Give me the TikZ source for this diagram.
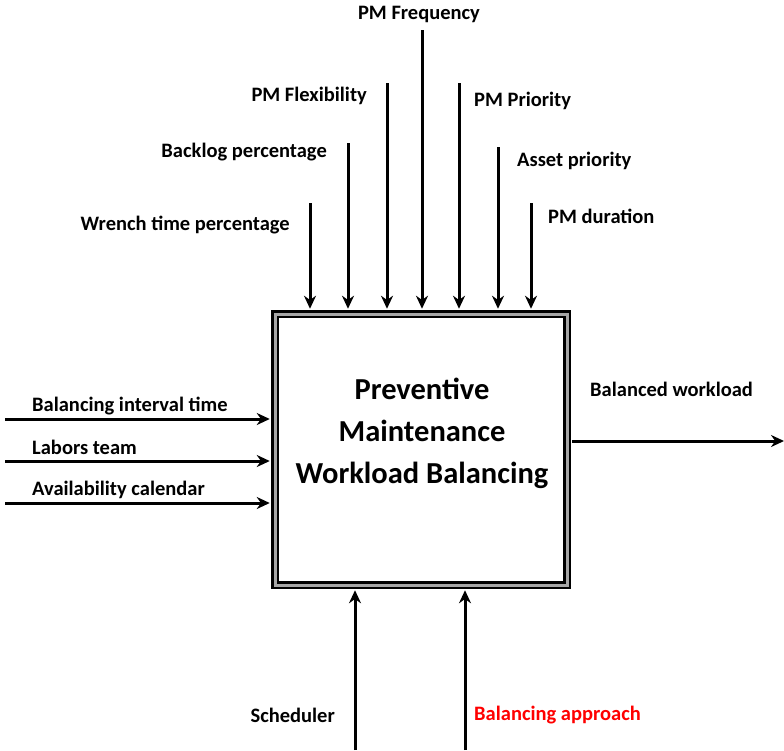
\documentclass[tikz,border=0pt]{standalone}
\usepackage{fontspec}
\setmainfont{Carlito}
\usetikzlibrary{arrows.meta, positioning}

\tikzset{
  lbl/.style={font=\bfseries\fontsize{20.5}{24}\selectfont, inner sep=0pt},
  flow/.style={line width=3pt, -{Stealth[length=13pt,width=12pt]}},
}

\begin{document}
\begin{tikzpicture}[x=1pt, y=-1pt]
  \useasboundingbox (0,0) rectangle (784,750);

  % Activity box
  \node (box) [draw, double=black!35, double distance=3pt, line width=2.5pt, inner sep=0pt,
    minimum width=292pt, minimum height=271pt] at (421,449.5) {};
  \node (title) [align=center, font=\bfseries\fontsize{30.5}{42}\selectfont]
    at (422,433) {Preventive\\Maintenance\\Workload Balancing};

  % Controls (top)
  \coordinate (wrenchtop)   at (310,203);
  \coordinate (backlogtop)  at (348,143);
  \coordinate (flextop)     at (387,83);
  \coordinate (freqtop)     at (422,30);
  \coordinate (prioritytop) at (459,83);
  \coordinate (assettop)    at (498,147);
  \coordinate (durationtop) at (531,203);

  \draw[flow, shorten >=4pt] (wrenchtop)   -- (wrenchtop |- box.north);
  \draw[flow, shorten >=4pt] (backlogtop)  -- (backlogtop |- box.north);
  \draw[flow, shorten >=4pt] (flextop)     -- (flextop |- box.north);
  \draw[flow, shorten >=4pt] (freqtop)     -- (freqtop |- box.north);
  \draw[flow, shorten >=4pt] (prioritytop) -- (prioritytop |- box.north);
  \draw[flow, shorten >=4pt] (assettop)    -- (assettop |- box.north);
  \draw[flow, shorten >=4pt] (durationtop) -- (durationtop |- box.north);

  \node[lbl, anchor=east] (wrench)   at (290,225) {Wrench time percentage};
  \node[lbl, anchor=east] (backlog)  at (327,152) {Backlog percentage};
  \node[lbl, anchor=east] (flex)     at (367,96)  {PM Flexibility};
  \node[lbl]              (freq)     at (419,14)  {PM Frequency};
  \node[lbl, anchor=west] (priority) at (474,101) {PM Priority};
  \node[lbl, anchor=west] (asset)    at (517,161) {Asset priority};
  \node[lbl, anchor=west] (duration) at (548,216) {PM duration};

  % Inputs (left)
  \coordinate (intervalin) at (5,419);
  \coordinate (laborsin)   at (5,461);
  \coordinate (calendarin) at (5,503);

  \draw[flow, shorten >=4pt] (intervalin) -- (intervalin -| box.west);
  \draw[flow, shorten >=4pt] (laborsin)   -- (laborsin -| box.west);
  \draw[flow, shorten >=4pt] (calendarin) -- (calendarin -| box.west);

  \node[lbl, anchor=west] (interval) at (32,406) {Balancing interval time};
  \node[lbl, anchor=west] (labors)   at (32,447) {Labors team};
  \node[lbl, anchor=west] (calendar) at (32,490) {Availability calendar};

  % Output (right)
  \coordinate (workloadout) at (784,441);
  \draw[flow, shorten <=4pt] (workloadout -| box.east) -- (workloadout);
  \node[lbl, anchor=west] (workload) at (590,389) {Balanced workload};

  % Mechanisms (bottom)
  \coordinate (schedulerin) at (355,750);
  \coordinate (approachin)  at (465,750);

  \draw[flow, shorten >=4pt] (schedulerin) -- (schedulerin |- box.south);
  \draw[flow, shorten >=4pt] (approachin)  -- (approachin |- box.south);

  \node[lbl, anchor=east]      (scheduler) at (335,715) {Scheduler};
  \node[lbl, anchor=west, red] (approach)  at (474,715) {Balancing approach};
\end{tikzpicture}
\end{document}
